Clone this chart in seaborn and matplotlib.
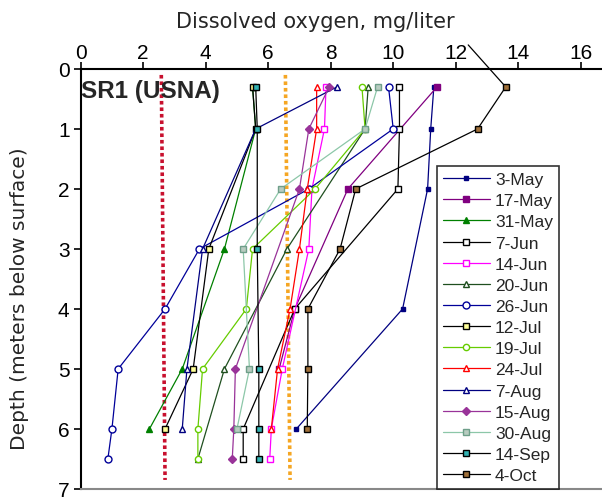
import numpy as np
import pandas as pd
import matplotlib
matplotlib.use("Agg")
import matplotlib.pyplot as plt
import seaborn as sns

# Sampling depths (m below surface); the first level is the stray surface reading
depth_levels = [-0.4, 0.3, 1, 2, 3, 4, 5, 6, 6.5]
n = np.nan

# Dissolved oxygen (mg/liter) at each depth level, one list per survey date
do_3may  = [n, 11.3, 11.2, 11.1, n, 10.3, n, 6.9, n]
do_17may = [n, 11.4, n, 8.55, n, 6.85, 6.35, n, n]
do_31may = [n, 5.5, 5.6, n, 4.6, n, 3.25, 2.2, n]
do_7jun  = [n, 10.2, 10.2, 10.15, n, 6.85, n, 5.2, 5.2]
do_14jun = [n, 7.85, 7.8, 7.4, 7.3, n, 6.45, 6.1, 6.05]
do_20jun = [n, 9.2, 9.1, n, 6.6, n, 4.6, n, 3.75]
do_26jun = [n, 9.85, 10.0, 7.3, 3.8, 2.7, 1.2, 1.0, 0.87]
do_12jul = [n, 5.5, 5.6, n, 4.1, n, 3.6, 2.7, n]
do_19jul = [n, 9.0, 9.1, 7.5, 5.5, 5.3, 3.9, 3.75, 3.75]
do_24jul = [n, 7.55, 7.55, 7.25, 7.0, 6.7, 6.3, 6.1, n]
do_7aug  = [n, 8.2, 5.6, n, 3.9, n, 3.4, 3.25, n]
do_15aug = [n, 7.95, 7.3, 7.0, n, n, 4.95, 4.9, 4.85]
do_30aug = [n, 9.5, 9.1, 6.4, 5.2, n, 5.4, 5.0, n]
do_14sep = [n, 5.6, 5.65, n, 5.65, n, 5.7, 5.7, 5.7]
do_4oct  = [12.4, 13.6, 12.7, 8.8, 8.3, 7.27, 7.27, 7.25, n]

dates = ["3-May", "17-May", "31-May", "7-Jun", "14-Jun", "20-Jun", "26-Jun",
         "12-Jul", "19-Jul", "24-Jul", "7-Aug", "15-Aug", "30-Aug", "14-Sep", "4-Oct"]

# Reference oxygen levels drawn as dotted guide lines
low_do_x = [2.58, 2.7]
mid_do_x = [6.55, 6.7]
guide_depth = [0.1, 6.85]

series = [do_3may, do_17may, do_31may, do_7jun, do_14jun, do_20jun, do_26jun,
          do_12jul, do_19jul, do_24jul, do_7aug, do_15aug, do_30aug, do_14sep, do_4oct]

frames = []
for date, vals in zip(dates, series):
    frames.append(pd.DataFrame({"date": date, "depth": depth_levels, "do": vals}))
df = pd.concat(frames, ignore_index=True).dropna()

# line colour, marker, marker face, marker edge, marker size
looks = {
    "3-May":  ("#000080", "s", "#000080", "#000080", 3.5),
    "17-May": ("#800080", "s", "#800080", "#800080", 5.0),
    "31-May": ("#008000", "^", "#008000", "#008000", 5.0),
    "7-Jun":  ("#000000", "s", "white", "#000000", 5.0),
    "14-Jun": ("#FF00FF", "s", "white", "#FF00FF", 5.0),
    "20-Jun": ("#1F4F1F", "^", "white", "#1F4F1F", 5.0),
    "26-Jun": ("#000099", "o", "white", "#000099", 5.0),
    "12-Jul": ("#000000", "s", "#FFFF99", "#000000", 5.0),
    "19-Jul": ("#66CC00", "o", "white", "#66CC00", 4.5),
    "24-Jul": ("#FF0000", "^", "white", "#FF0000", 5.0),
    "7-Aug":  ("#000080", "^", "white", "#000080", 5.0),
    "15-Aug": ("#993399", "D", "#993399", "#993399", 3.8),
    "30-Aug": ("#8CC7A8", "s", "#B8CCC0", "#6F9F8A", 5.0),
    "14-Sep": ("#000000", "s", "#33B3B3", "#000000", 5.0),
    "4-Oct":  ("#000000", "s", "#A0703A", "#000000", 5.0),
}

sns.set_style("white")
plt.rcParams["font.family"] = ["Liberation Sans", "DejaVu Sans"]

fig = plt.figure(figsize=(6.02, 5.02), dpi=100)
ax = fig.add_axes([0.134, 0.024, 0.866, 0.8367])

ax.plot(low_do_x, guide_depth, color="#C8102E", lw=2.6, ls=(0, (1, 0.8)), zorder=1.5)
ax.plot(mid_do_x, guide_depth, color="#F5A623", lw=2.6, ls=(0, (1, 0.8)), zorder=1.5)

handles = []
for date in dates:
    sub = df[df["date"] == date]
    color, marker, face, edge, size = looks[date]
    extra = {}
    if sub["depth"].min() < 0:
        extra = dict(clip_on=False, markevery=list(range(1, len(sub))))
    sns.lineplot(data=sub, x="do", y="depth", sort=False, estimator=None, ax=ax,
                 color=color, lw=0.9, marker=marker, markersize=size,
                 markerfacecolor=face, markeredgecolor=edge, markeredgewidth=1.0,
                 legend=False, **extra)
    line = ax.lines[-1]
    line.set_label(date)
    handles.append(line)

ax.set_xlim(0, 16.68)
ax.set_ylim(7, 0)
ax.set_xticks(range(0, 17, 2))
ax.set_yticks(range(0, 8))
ax.xaxis.tick_top()
ax.xaxis.set_label_position("top")
ax.tick_params(axis="x", which="both", top=True, bottom=False, direction="out",
               length=5, width=1.2, pad=0, labelsize=15, colors="black")
ax.tick_params(axis="y", which="both", left=True, direction="out",
               length=5, width=1.2, pad=3, labelsize=15, colors="black")

for side in ["top", "left"]:
    ax.spines[side].set_color("black")
    ax.spines[side].set_linewidth(1.5)
ax.spines["bottom"].set_color("#888888")
ax.spines["bottom"].set_linewidth(1.5)
ax.spines["right"].set_visible(False)

ax.set_xlabel("Dissolved oxygen, mg/liter", fontsize=15, family="DejaVu Sans")
ax.xaxis.set_label_coords(0.451, 1.10)
ax.set_ylabel("Depth (meters below surface)", fontsize=14.5, family="DejaVu Sans")
ax.yaxis.set_label_coords(-0.10, 0.455)

ax.text(0.02, 0.36, "SR1 (USNA)", fontsize=17.5, fontweight="bold", va="center", ha="left")

leg = ax.legend(handles=handles, labels=dates, loc="upper left",
                bbox_to_anchor=(0.683, 0.769), frameon=True, fancybox=False,
                edgecolor="black", fontsize=12.5, labelspacing=0.345,
                handlelength=2.7, handletextpad=0.3, borderpad=0.35,
                borderaxespad=0, numpoints=1)
leg.get_frame().set_linewidth(1.2)

fig.savefig("out.png", dpi=100)
